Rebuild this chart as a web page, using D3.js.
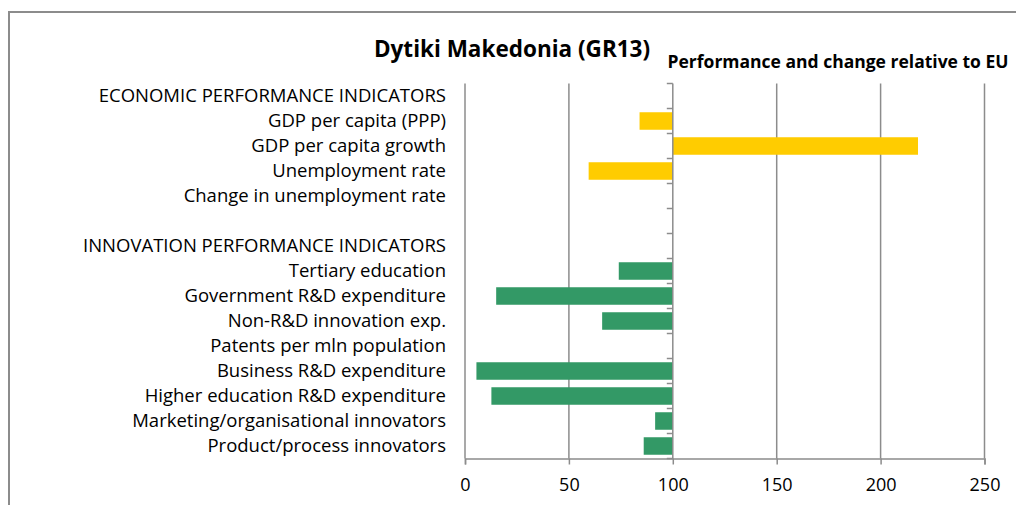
<!DOCTYPE html>
<html><head><meta charset="utf-8">
<script src="https://cdn.jsdelivr.net/npm/d3@7"></script>
<style>body{margin:0;background:#fff}svg{display:block}</style>
</head><body><svg id="c" width="1016" height="505"></svg>
<script>
const categories = [
  "ECONOMIC PERFORMANCE INDICATORS",
  "GDP per capita (PPP)",
  "GDP per capita growth",
  "Unemployment rate",
  "Change in unemployment rate",
  "",
  "INNOVATION PERFORMANCE INDICATORS",
  "Tertiary education",
  "Government R&D expenditure",
  "Non-R&D innovation exp.",
  "Patents per mln population",
  "Business R&D expenditure",
  "Higher education R&D expenditure",
  "Marketing/organisational innovators",
  "Product/process innovators"
];
const values = [null, 84, 218, 59.5, null, null, null, 74, 15, 66, null, 5.5, 12.7, 91.5, 86];
const groups = ["", "eco", "eco", "eco", "eco", "", "", "inn", "inn", "inn", "inn", "inn", "inn", "inn", "inn"];
const xTicks = [0, 50, 100, 150, 200, 250];
const title = "Dytiki Makedonia (GR13)";
const subtitle = "Performance and change relative to EU";
const colors = {eco: "#FFCC00", inn: "#339966"};

const svg = d3.select("#c");
const font = "'Open Sans', sans-serif";
const grey = "#8c8c8c";

svg.append("path").attr("d", "M9,505 V12 H1016").attr("fill", "none")
  .attr("stroke", grey).attr("stroke-width", 2);

const L = 465, R = 984.5, T = 83.5, B = 458.5;
const x = d3.scaleLinear().domain([0, 250]).range([L, R]);
const y = d3.scaleBand().domain(d3.range(categories.length)).range([T, B]).paddingInner(0.3).paddingOuter(0.15);

svg.append("g").selectAll("line").data(xTicks.filter(t => t !== 100)).join("line")
  .attr("x1", d => x(d)).attr("x2", d => x(d)).attr("y1", T).attr("y2", B)
  .attr("stroke", grey).attr("stroke-width", 1.5);

svg.append("g").selectAll("rect").data(values.map((v, i) => ({v, i})).filter(d => d.v != null)).join("rect")
  .attr("x", d => x(Math.min(d.v, 100)))
  .attr("width", d => Math.abs(x(d.v) - x(100)))
  .attr("y", d => y(d.i))
  .attr("height", y.bandwidth())
  .attr("fill", d => colors[groups[d.i]]);

const xa = svg.append("g").attr("transform", `translate(0,${B})`)
  .call(d3.axisBottom(x).tickValues(xTicks).tickSize(6).tickPadding(14).tickFormat(d3.format("d")));
xa.select(".domain").attr("stroke", grey).attr("stroke-width", 1.5);
xa.selectAll(".tick line").attr("stroke", grey).attr("stroke-width", 1.5);
xa.selectAll(".tick text").attr("fill", "#000").style("font-family", font).style("font-size", "18px");

const step = (B - T) / categories.length;
const bounds = d3.range(categories.length + 1).map(i => T + i * step);
svg.append("line").attr("x1", x(100)).attr("x2", x(100)).attr("y1", T).attr("y2", B)
  .attr("stroke", grey).attr("stroke-width", 1.5);
svg.append("g").selectAll("line").data(bounds).join("line")
  .attr("x1", x(100) - 6).attr("x2", x(100)).attr("y1", d => d).attr("y2", d => d)
  .attr("stroke", grey).attr("stroke-width", 1.5);

svg.append("g").selectAll("text").data(categories).join("text")
  .attr("x", 446).attr("y", (d, i) => T + (i + 0.5) * step)
  .attr("dy", "0.31em").attr("text-anchor", "end")
  .style("font-family", font).style("font-size", "18.5px").attr("fill", "#000")
  .text(d => d);

svg.append("text").attr("x", 512).attr("y", 57).attr("text-anchor", "middle")
  .style("font-family", font).style("font-size", "22.5px").style("font-weight", "bold").text(title);
svg.append("text").attr("x", 838).attr("y", 68).attr("text-anchor", "middle")
  .style("font-family", font).style("font-size", "17.5px").style("font-weight", "bold").text(subtitle);
</script></body></html>
